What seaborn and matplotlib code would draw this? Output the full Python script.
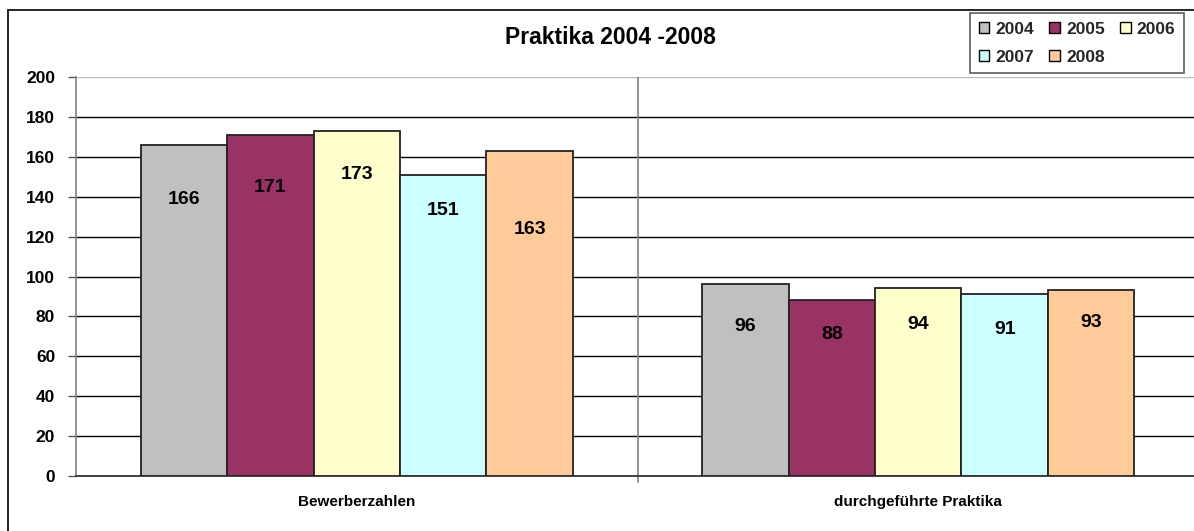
import matplotlib
matplotlib.use("Agg")
import matplotlib.pyplot as plt
import seaborn as sns
import pandas as pd
from matplotlib.patches import Patch
from matplotlib.lines import Line2D

categories = ["Bewerberzahlen", "durchgeführte Praktika"]
years = ["2004", "2005", "2006", "2007", "2008"]
values_2004 = [166, 96]
values_2005 = [171, 88]
values_2006 = [173, 94]
values_2007 = [151, 91]
values_2008 = [163, 93]
title = "Praktika 2004 -2008"
y_ticks = [0, 20, 40, 60, 80, 100, 120, 140, 160, 180, 200]

# label vertical placement (as in the original, manually placed inside the bars)
label_y_2004 = [138.7, 74.8]
label_y_2005 = [144.7, 70.7]
label_y_2006 = [151.2, 75.7]
label_y_2007 = [133.3, 73.2]
label_y_2008 = [123.8, 77.0]

colors = ["#C0C0C0", "#993366", "#FFFFCC", "#CCFFFF", "#FFCC99"]

series = [values_2004, values_2005, values_2006, values_2007, values_2008]
label_ys = [label_y_2004, label_y_2005, label_y_2006, label_y_2007, label_y_2008]

rows = []
for yr, vals in zip(years, series):
    for c, v in zip(categories, vals):
        rows.append({"Kategorie": c, "Jahr": yr, "Wert": v})
df = pd.DataFrame(rows)

sns.set_theme(style="white")
plt.rcParams["font.family"] = ["Liberation Sans", "DejaVu Sans"]

W, H = 1194, 531
fig = plt.figure(figsize=(W / 100, H / 100), dpi=100)
ax = fig.add_axes([76 / W, 1 - 476 / H, (1199 - 76) / W, (476 - 77) / H])

sns.barplot(data=df, x="Kategorie", y="Wert", hue="Jahr", order=categories,
            hue_order=years, palette=colors, width=0.77, saturation=1,
            edgecolor="#222222", linewidth=1.3, ax=ax, legend=False, zorder=3)

ax.set_ylim(0, 200)
ax.set_xlim(-0.5, 1.5)
ax.set_yticks(y_ticks)
ax.set_yticklabels([str(t) for t in y_ticks], fontsize=12.5, fontweight="bold", color="black")
ax.set_xticks([0, 1])
ax.set_xticklabels(categories, fontsize=11, fontweight="bold", color="black")
ax.tick_params(axis="x", length=0, pad=14)
ax.tick_params(axis="y", length=6, width=1, color="#555555", direction="out", pad=9, left=True)
ax.set_xlabel("")
ax.set_ylabel("")

for t in y_ticks[1:-1]:
    ax.axhline(t, color="black", lw=1, zorder=1)
ax.axhline(200, color="#BBBBBB", lw=1, zorder=1)
ax.axvline(0.5, color="#808080", lw=1.2, zorder=1)
ax.plot([0.5, 0.5], [0, -2.8], color="#808080", lw=1.2, clip_on=False)

for s in ["top", "right"]:
    ax.spines[s].set_visible(False)
ax.spines["left"].set_color("#808080")
ax.spines["left"].set_linewidth(1.2)
ax.spines["bottom"].set_color("#333333")
ax.spines["bottom"].set_linewidth(1.3)

# value labels
bars = ax.patches
for i, yr in enumerate(years):
    for j, c in enumerate(categories):
        p = bars[i * len(categories) + j]
        xc = p.get_x() + p.get_width() / 2
        ax.text(xc, label_ys[i][j], str(series[i][j]), ha="center", va="center",
                fontsize=14, fontweight="bold", color="black", zorder=5)

fig.text(610 / W, 1 - 38 / H, title, ha="center", va="center",
         fontsize=16.5, fontweight="bold", color="black")

# outer frame of the chart
fig.add_artist(Line2D([8 / W, 8 / W], [0, 1 - 10 / H], color="black", lw=1.2))
fig.add_artist(Line2D([8 / W, 1.0], [1 - 10 / H, 1 - 10 / H], color="black", lw=1.2))

handles = [Patch(facecolor=c, edgecolor="black", linewidth=1) for c in colors]
# reorder so the legend fills row by row (2004 2005 2006 / 2007 2008)
order = [0, 3, 1, 4, 2]
leg = fig.legend([handles[k] for k in order], [years[k] for k in order],
                 loc="upper left", bbox_to_anchor=(970 / W, 1 - 13 / H),
                 ncol=3, frameon=True, fancybox=False, edgecolor="#333333",
                 prop={"weight": "bold", "size": 12.5}, handlelength=0.6, handleheight=0.6,
                 handletextpad=0.35, columnspacing=0.9, borderpad=0.5, labelspacing=0.75,
                 borderaxespad=0)
leg.get_frame().set_linewidth(1.2)

fig.savefig("out.png", dpi=100, facecolor="white")
